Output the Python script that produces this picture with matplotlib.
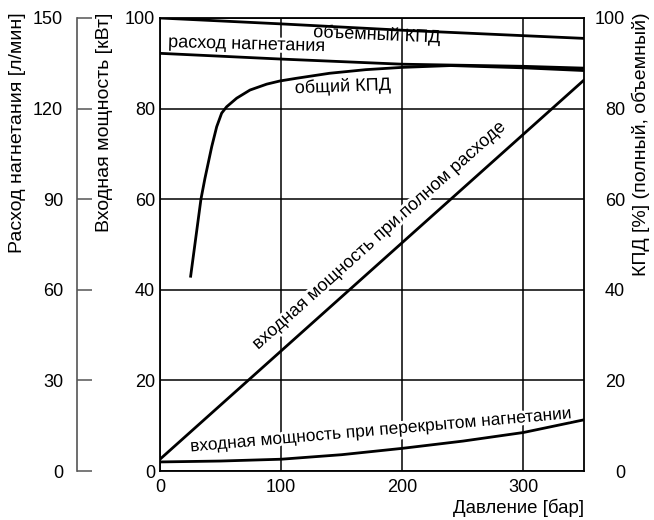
import numpy as np
from matplotlib import pyplot as plt
import matplotlib.patheffects as pe

plt.rcParams['font.family'] = ['Liberation Sans', 'DejaVu Sans']

# pressure [bar] vs. values
pressure_flow = [0, 100, 200, 300, 350]
flow = [138.3, 136.4, 134.7, 134.0, 133.4]          # l/min

pressure_vol = [0, 100, 200, 300, 350]
vol_eff = [100.0, 98.7, 97.3, 96.1, 95.5]           # %

pressure_total = [25.3, 33.8, 37.1, 42.7, 46.8, 50.9, 55.0, 63.3, 74.3, 88.1,
                  99, 112.8, 140, 170, 200, 240, 300, 350]
total_eff = [43, 60, 64.6, 71.6, 76.0, 79.0, 80.4, 82.3, 84.1, 85.4,
             86.1, 86.7, 87.8, 88.6, 89.1, 89.5, 89.0, 88.4]

pressure_full = [0, 350]
power_full = [2.6, 86.3]                            # kW

pressure_closed = [0, 50, 100, 150, 200, 250, 300, 350]
power_closed = [2.0, 2.2, 2.6, 3.6, 5.0, 6.6, 8.5, 11.3]

x_ticks = [0, 100, 200, 300]
power_ticks = [0, 20, 40, 60, 80, 100]
flow_ticks = [0, 30, 60, 90, 120, 150]
eff_ticks = [0, 20, 40, 60, 80, 100]

W, H = 654, 520
fig = plt.figure(figsize=(W / 100, H / 100), dpi=100)
L, R, T, B = 160, 584, 18, 471
ax = fig.add_axes([L / W, 1 - B / H, (R - L) / W, (B - T) / H])

lw_curve = 2.0
fs_note = 13
fs_label = 14
stroke = [pe.withStroke(linewidth=4, foreground='white')]

# main axis: power
ax.set_xlim(0, 350)
ax.set_ylim(0, 100)
ax.set_xticks(x_ticks)
ax.set_yticks(power_ticks)
ax.grid(True, color='black', linewidth=1.1)
for s in ax.spines.values():
    s.set_linewidth(1.3)
ax.tick_params(axis='both', length=0, labelsize=13)
ax.tick_params(axis='y', pad=3.5)
ax.tick_params(axis='x', pad=6)
ax.plot(pressure_full, power_full, color='black', lw=lw_curve)
ax.plot(pressure_closed, power_closed, color='black', lw=lw_curve)

ax.set_ylabel('Входная мощность [кВт]', fontsize=fs_label, loc='top')
ax.yaxis.label.set_rotation_mode('anchor')
ax.yaxis.label.set_va('center')
ax.yaxis.set_label_coords(-0.130, 1.012)
ax.set_xlabel('Давление [бар]', fontsize=13.4, loc='right')
ax.xaxis.label.set_va('top')
ax.xaxis.set_label_coords(1.0, -0.062)

ax.text(80.9, 26.7, 'входная мощность при полном расходе', fontsize=fs_note,
        rotation=41.8, rotation_mode='anchor', ha='left', va='baseline',
        path_effects=stroke)
ax.text(25.3, 4.3, 'входная мощность при перекрытом нагнетании', fontsize=12.5,
        rotation=5, rotation_mode='anchor', ha='left', va='baseline',
        path_effects=stroke)
ax.text(6.6, 93.6, 'расход нагнетания', fontsize=fs_note,
        rotation=-1.5, rotation_mode='anchor', ha='left', va='baseline',
        path_effects=stroke)
ax.text(126.3, 95.8, 'объемный КПД', fontsize=fs_note,
        rotation=-2.5, rotation_mode='anchor', ha='left', va='baseline',
        path_effects=stroke)
ax.text(111.4, 83.4, 'общий КПД', fontsize=fs_note,
        rotation=2, rotation_mode='anchor', ha='left', va='baseline',
        path_effects=stroke)

# outer left axis: flow
ax_flow = ax.twinx()
ax_flow.set_ylim(0, 150)
ax_flow.set_yticks(flow_ticks)
ax_flow.yaxis.set_ticks_position('left')
ax_flow.yaxis.set_label_position('left')
for k in ['top', 'bottom', 'right']:
    ax_flow.spines[k].set_visible(False)
ax_flow.spines['left'].set_position(('axes', (77 - L) / (R - L)))
ax_flow.spines['left'].set_color('#555555')
ax_flow.spines['left'].set_linewidth(1.2)
ax_flow.tick_params(axis='y', direction='in', length=10.8, width=1.1,
                    color='#555555', labelsize=13, pad=10)
ax_flow.plot(pressure_flow, flow, color='black', lw=lw_curve)
ax_flow.set_ylabel('Расход нагнетания [л/мин]', fontsize=fs_label, loc='top')
ax_flow.yaxis.label.set_rotation_mode('anchor')
ax_flow.yaxis.label.set_va('center')
ax_flow.yaxis.set_label_coords((17 - L) / (R - L), 1.012)

# right axis: efficiency
ax_eff = ax.twinx()
ax_eff.set_ylim(0, 100)
ax_eff.set_yticks(eff_ticks)
for s in ax_eff.spines.values():
    s.set_visible(False)
ax_eff.tick_params(axis='y', length=0, labelsize=13, pad=29.5)
for lab in ax_eff.get_yticklabels():
    lab.set_ha('right')
ax_eff.plot(pressure_vol, vol_eff, color='black', lw=lw_curve)
ax_eff.plot(pressure_total, total_eff, color='black', lw=lw_curve)
ax_eff.set_ylabel('КПД [%] (полный, объемный)', fontsize=fs_label, loc='top')
ax_eff.yaxis.label.set_rotation_mode('anchor')
ax_eff.yaxis.label.set_va('center')
ax_eff.yaxis.set_label_coords((641 - L) / (R - L), 1.012)

fig.savefig('out.png', dpi=100)
